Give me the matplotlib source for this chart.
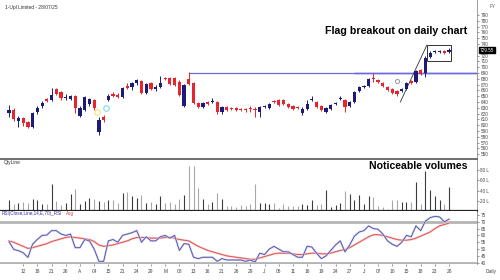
import numpy as np
import matplotlib
matplotlib.use("Agg")
import matplotlib.pyplot as plt
from matplotlib import font_manager

# ---- data ----
opens = [621, 626, 607, 612, 606, 597, 623, 633, 645, 643, 662, 657, 647, 645, 650, 616, 626, 637, 643, 588,
         614, 643, 654, 652, 649, 668, 666, 673, 676, 656, 673, 662, 666, 681, 681, 681, 674, 633, 680, 673,
         638, 631, 640, 640, 640, 623, 631, 630, 630, 628, 628, 630, 628, 623, 631, 630, 642, 643, 643, 637,
         633, 631, 621, 628, 643, 640, 633, 623, 628, 637, 645, 643, 633, 640, 659, 666, 668, 681, 678, 673,
         666, 662, 659, 659, 662, 676, 674, 695, 690, 718, 726, 726, 728, 726]
highs = [635, 630, 616, 614, 607, 623, 633, 642, 647, 664, 664, 659, 654, 652, 652, 633, 650, 647, 645, 614,
         618, 654, 657, 656, 666, 673, 674, 680, 678, 673, 674, 669, 685, 683, 683, 683, 678, 671, 692, 674,
         640, 640, 642, 647, 642, 633, 633, 631, 631, 630, 630, 633, 631, 633, 635, 638, 643, 645, 645, 638,
         635, 633, 631, 643, 650, 642, 635, 631, 637, 640, 650, 645, 642, 659, 668, 669, 681, 690, 680, 674,
         668, 664, 661, 664, 674, 678, 695, 697, 719, 728, 730, 730, 730, 733]
lows = [614, 607, 597, 599, 595, 595, 619, 630, 640, 642, 652, 643, 643, 643, 621, 614, 624, 633, 626, 583,
        606, 642, 649, 647, 647, 662, 661, 669, 654, 654, 661, 659, 664, 678, 669, 668, 650, 631, 669, 637,
        630, 630, 635, 638, 619, 619, 625, 626, 625, 625, 623, 623, 614, 614, 630, 628, 638, 633, 635, 630,
        626, 628, 618, 626, 642, 630, 625, 621, 626, 635, 643, 623, 631, 638, 657, 664, 666, 674, 673, 666,
        659, 654, 650, 657, 661, 671, 673, 687, 683, 716, 724, 724, 723, 724]
closes = [626, 611, 612, 604, 597, 621, 630, 638, 642, 652, 654, 647, 649, 650, 630, 630, 649, 645, 630, 609,
          609, 650, 650, 649, 664, 664, 673, 678, 656, 671, 662, 666, 673, 680, 671, 669, 652, 669, 671, 638,
          631, 638, 637, 642, 623, 631, 626, 628, 626, 626, 626, 628, 626, 631, 633, 637, 640, 635, 637, 631,
          628, 630, 628, 637, 645, 631, 626, 630, 635, 638, 647, 631, 640, 657, 666, 668, 680, 680, 674, 668,
          661, 656, 654, 662, 673, 673, 693, 688, 716, 724, 728, 728, 724, 729.55]

# volume in lakh
volume = [21, 14, 16, 18, 16, 24, 21, 14, 13, 52, 19, 11, 16, 34, 44, 14, 19, 26, 24, 20,
          18, 21, 21, 16, 35, 37, 29, 26, 31, 16, 18, 14, 29, 16, 18, 13, 24, 31, 88, 88,
          46, 24, 13, 18, 35, 24, 10, 10, 8, 11, 9, 14, 52, 16, 16, 13, 16, 5, 14, 10,
          10, 10, 14, 11, 21, 12, 13, 42, 8, 11, 16, 39, 33, 21, 31, 13, 29, 27, 10, 7,
          3, 21, 21, 18, 18, 18, 56, 14, 78, 41, 29, 21, 13, 48]

rsi = [55.4, 49.8, 48.8, 47.3, 43.9, 53.7, 57.1, 60, 60.3, 63.5, 63.5, 61, 60, 61, 51, 51, 57, 56, 50, 41,
       41, 56, 57, 55, 60, 61, 62, 63.5, 55, 59, 56, 56, 59, 60, 58, 60, 49, 54, 53.5, 44,
       43, 44, 44, 44, 41, 43, 42, 42, 42, 42, 41, 42, 40.5, 47, 46, 50, 52, 50, 48, 48,
       46, 44, 44, 52, 51.5, 47, 43, 45, 49, 53, 56, 48, 53, 59.5, 62.5, 63.5, 67, 65, 64.5, 61,
       56, 53.5, 52, 55, 60, 59, 67, 63.5, 70.5, 73, 74, 73.5, 70, 72]
rsi_avg = [56, 55, 53.5, 52, 50.5, 51, 52, 53, 54, 55.5, 56.5, 57.5, 58.5, 59, 58.5, 58, 57.5, 57, 55.5, 53,
           52, 52.5, 53, 54, 55, 56, 57.5, 58.5, 58.5, 58.5, 58, 58, 58, 58.5, 58.5, 58, 57, 56.5, 56, 54,
           52, 50.5, 49, 48, 47, 46, 45, 44.5, 44, 43.5, 43, 42.5, 42.5, 43.5, 44.5, 45.5, 46.5, 47, 47, 47,
           46.5, 46, 46, 46.5, 47, 47, 46.5, 46.5, 47, 48, 49, 49.5, 51, 53, 55, 57, 59, 60.5, 60.5, 60,
           59, 58, 57, 56.5, 56.5, 57, 58, 59.5, 61, 62.5, 65, 67, 68, 69]

date_labels = ['12', '18', '21', '26', 'A', '04', '15', '21', '24', '29', 'M', '08', '13', '16', '21', '26',
               '29', 'J', '06', '11', '16', '19', '24', '27', 'J', '07', '10', '15', '18', '23', '28']
date_pos = list(range(3, 94, 3))
price_ticks = [p for p in range(550, 791, 10) if p != 730]

resistance = 690
last_price = 729.55
flag_box = [88.3, 93.4, 711, 738]          # x0, x1, y0, y1
flag_pole = [(82.7, 640), (88.3, 738)]
signal_yellow = (18.5, 623)
signal_cyan = (20.5, 630)
signal_gray = (82, 676)

W, H = 500, 280
BLUE = '#1c1c78'
RED = '#e8242c'

names = {f.name for f in font_manager.fontManager.ttflist}
bigfont = 'Liberation Sans Narrow' if 'Liberation Sans Narrow' in names else 'Liberation Sans'
plt.rcParams['font.family'] = ['Liberation Sans', 'DejaVu Sans']

fig = plt.figure(figsize=(5, 2.8), dpi=100)
fig.patch.set_facecolor('white')


def rect(top, bottom, left=0, right=477):
    return [left / W, 1 - bottom / H, (right - left) / W, (bottom - top) / H]


n = len(closes)
x = np.arange(n)
up = np.array(closes) >= np.array(opens)
colors = [BLUE if u else RED for u in up]
xlim = (-1.9, 98.9)
plo, phi = 541.7, 815.9

# ---- price panel ----
ax = fig.add_axes(rect(0, 159))
ax.set_xlim(*xlim)
ax.set_ylim(plo, phi)
ax.hlines(resistance, 73, xlim[1], colors='#c8c8f4', linewidth=1.8, zorder=0)
ax.hlines(resistance, 38, xlim[1], colors='#6a6ae0', linewidth=0.9, zorder=1)
ax.vlines(x, lows, highs, colors=colors, linewidth=0.7, zorder=2)
bot = np.minimum(opens, closes)
hgt = np.maximum(np.abs(np.array(closes) - np.array(opens)), 0.8)
ax.bar(x, hgt, bottom=bot, width=0.68, color=colors, linewidth=0, zorder=3)
ax.add_patch(plt.Rectangle((flag_box[0], flag_box[2]), flag_box[1] - flag_box[0], flag_box[3] - flag_box[2],
                           fill=False, edgecolor='#333333', linewidth=0.7))
ax.plot([p[0] for p in flag_pole], [p[1] for p in flag_pole], color='#333333', linewidth=0.6)
ax.plot(*signal_yellow, 'o', mfc='none', mec='#f2e27a', ms=4, mew=0.8)
ax.plot(*signal_cyan, 'o', mfc='none', mec='#7fd8ee', ms=4, mew=0.8)
ax.plot(*signal_gray, 'o', mfc='none', mec='#9a9a9a', ms=3, mew=0.7)
ax.set_yticks(price_ticks)
ax.yaxis.tick_right()
ax.tick_params(axis='y', labelsize=3.3, length=1.5, width=0.4, pad=1, colors='#444444')
ax.set_xticks([])
for s in ['left', 'top', 'bottom']:
    ax.spines[s].set_visible(False)
ax.spines['right'].set_linewidth(0.5)
ax.spines['right'].set_color('#777777')
ax.text(1.006, (last_price - plo) / (phi - plo), '%.2f' % last_price, transform=ax.transAxes,
        fontsize=3.3, color='white', va='center', ha='left',
        bbox=dict(facecolor='black', edgecolor='black', pad=0.6))

# ---- volume panel ----
axv = fig.add_axes(rect(159, 211))
axv.set_xlim(*xlim)
axv.set_ylim(0, 102)
vcol = ['#3c3c3c' if u else '#a8a8a8' for u in up]
axv.vlines(x, 0, volume, colors=vcol, linewidth=0.8)
axv.set_yticks([20, 40, 60, 80])
axv.set_yticklabels(['20 L', '40 L', '60 L', '80 L'])
axv.yaxis.tick_right()
axv.tick_params(axis='y', labelsize=3.3, length=1.5, width=0.4, pad=1, colors='#444444')
axv.set_xticks([])
axv.spines['left'].set_visible(False)
axv.spines['top'].set_linewidth(1.2)
axv.spines['top'].set_color('#555555')
axv.spines['bottom'].set_linewidth(1.6)
axv.spines['bottom'].set_color('#222222')
axv.spines['right'].set_linewidth(0.5)
axv.spines['right'].set_color('#777777')

# ---- RSI panel ----
axr = fig.add_axes(rect(211, 264))
axr.set_xlim(*xlim)
axr.set_ylim(39.05, 77.9)
axr.axhline(70, color='#b4b4b4', linewidth=2.0)
axr.axhline(40, color='#b4b4b4', linewidth=2.0)
axr.plot(x, rsi_avg, color='#f8c4c4', linewidth=1.5)
axr.plot(x, rsi_avg, color='#e04848', linewidth=0.6)
axr.plot(x, rsi, color='#d2d2f2', linewidth=1.5)
axr.plot(x, rsi, color='#4c4ca4', linewidth=0.6)
axr.set_yticks(np.arange(40, 76, 5))
axr.yaxis.tick_right()
axr.tick_params(axis='y', labelsize=3.3, length=1.5, width=0.4, pad=1, colors='#444444')
axr.set_xticks(date_pos)
axr.set_xticklabels(date_labels)
axr.tick_params(axis='x', labelsize=3.5, length=1.2, width=0.4, pad=2.5, colors='#444444')
for s in ['left', 'top', 'bottom']:
    axr.spines[s].set_visible(False)
axr.spines['right'].set_linewidth(0.5)
axr.spines['right'].set_color('#777777')


# ---- texts ----
def ftext(px, py, s, **kw):
    return fig.text(px / W, 1 - py / H, s, **kw)


ftext(5, 8, '1-Upl Limited - 28/07/25', fontsize=3.5, color='#333333', va='center')
ftext(490, 7, 'FY', fontsize=3.3, color='#555555', va='center')
ftext(396, 31, 'Flag breakout on daily chart', fontsize=7.7, fontweight='bold', family=bigfont,
      ha='center', va='center', color='black')
ftext(418, 166, 'Noticeable volumes', fontsize=7.6, fontweight='bold', family=bigfont,
      ha='center', va='center', color='black')
ftext(4, 162.5, 'QtyLine', fontsize=3.5, color='#333333', va='center')
ftext(2, 214, 'RSI(Close,Line,14,E,70)_RSI', fontsize=3.3, color='#3030a0', va='center')
ftext(66, 214, 'Avg', fontsize=3.3, color='#e03030', va='center')
ftext(486, 271, 'Daily', fontsize=3.5, color='#444444', va='center')

fig.savefig('out.png', dpi=100)
